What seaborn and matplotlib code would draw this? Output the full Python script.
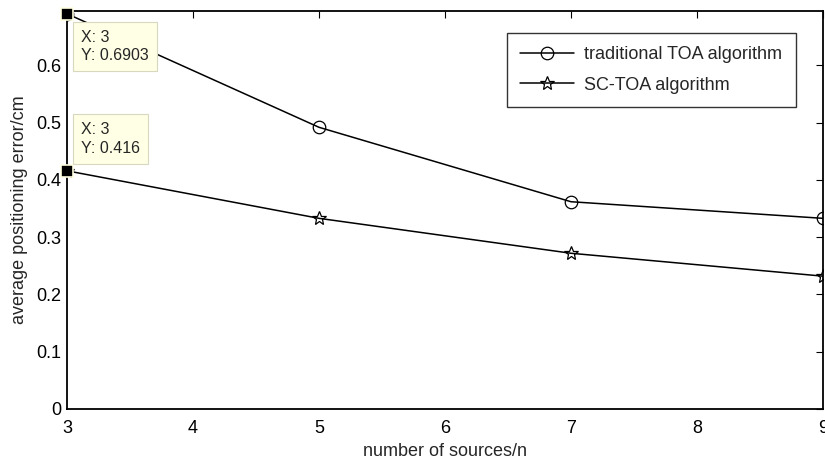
import matplotlib
matplotlib.use("Agg")
import matplotlib.pyplot as plt
import seaborn as sns
import pandas as pd

# data
sources = [3, 5, 7, 9]
traditional_toa = [0.6903, 0.492, 0.362, 0.333]
sc_toa = [0.416, 0.333, 0.272, 0.232]

df = pd.DataFrame({
    'n': sources * 2,
    'err': traditional_toa + sc_toa,
    'method': ['traditional TOA algorithm'] * 4 + ['SC-TOA algorithm'] * 4,
})

sns.set_style("white")
plt.rcParams['font.family'] = ['Liberation Sans', 'DejaVu Sans']

fig = plt.figure(figsize=(8.25, 4.61), dpi=100)
ax = fig.add_axes([0.0812, 0.1128, 0.9164, 0.8632])

sns.lineplot(data=df, x='n', y='err', hue='method', style='method',
             markers={'traditional TOA algorithm': 'o', 'SC-TOA algorithm': '*'},
             dashes=False, palette=['black', 'black'], linewidth=1.1,
             markersize=9, markerfacecolor='none', markeredgecolor='black',
             markeredgewidth=0.9, ax=ax)
# star a bit bigger, like the reference
for ln in ax.get_lines():
    if ln.get_marker() == '*':
        ln.set_markersize(10.5)

ax.set_xlim(3, 9)
ax.set_ylim(0, 0.695)
ax.set_xticks(range(3, 10))
ax.set_yticks([0, 0.1, 0.2, 0.3, 0.4, 0.5, 0.6])
ax.set_yticklabels(['0', '0.1', '0.2', '0.3', '0.4', '0.5', '0.6'])
ax.tick_params(direction='in', length=5, width=0.8, labelsize=13,
               top=True, right=True, colors='black')
ax.tick_params(axis='x', pad=8)
ax.tick_params(axis='y', pad=4)
for s in ax.spines.values():
    s.set_color('black')
    s.set_linewidth(1.3)

ax.set_xlabel('number of sources/n', fontsize=13, labelpad=4)
ax.set_ylabel('average positioning error/cm', fontsize=13, labelpad=6)

leg = ax.legend(loc='upper right', bbox_to_anchor=(0.969, 0.955), fontsize=13,
                frameon=True, fancybox=False, edgecolor='black',
                handlelength=3.0, handletextpad=0.55, borderpad=0.75,
                labelspacing=0.75, borderaxespad=0.2)
leg.get_frame().set_linewidth(1.0)
for h in leg.legend_handles:
    h.set_markerfacecolor('none')
    h.set_markeredgecolor('black')

# data tips: (x, y, pixel offset, vertical anchor)
tips = [(3, traditional_toa[0], (14, -16), 'top'),
        (3, sc_toa[0], (14, 15), 'bottom')]
for x, y, off, va in tips:
    ax.plot([x], [y], marker='s', markersize=8, color='black',
            markeredgecolor='#ffffe0', markeredgewidth=1.2, clip_on=False, zorder=5)
    label = f'X: {x}\nY: {y:g}'
    ax.annotate(label, xy=(x, y), xytext=off, textcoords='offset pixels',
                ha='left', va=va, fontsize=11.5, linespacing=1.3,
                bbox=dict(boxstyle='square,pad=0.5', fc='#ffffe6', ec='#d8d8c0', lw=0.8),
                zorder=6)

fig.savefig('out.png', dpi=100)
